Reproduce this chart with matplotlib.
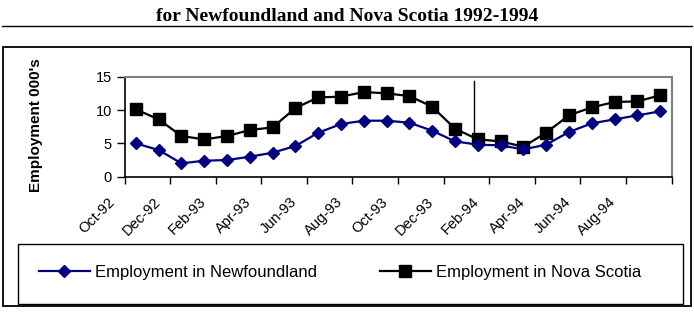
import matplotlib
matplotlib.use("Agg")
import matplotlib.pyplot as plt
from matplotlib.patches import Rectangle
from matplotlib.lines import Line2D
from matplotlib.transforms import ScaledTranslation

# data
months = ['Oct-92', 'Nov-92', 'Dec-92', 'Jan-93', 'Feb-93', 'Mar-93', 'Apr-93', 'May-93',
          'Jun-93', 'Jul-93', 'Aug-93', 'Sep-93', 'Oct-93', 'Nov-93', 'Dec-93', 'Jan-94',
          'Feb-94', 'Mar-94', 'Apr-94', 'May-94', 'Jun-94', 'Jul-94', 'Aug-94', 'Sep-94']
newfoundland = [5.0, 4.0, 2.0, 2.4, 2.5, 3.0, 3.6, 4.6, 6.6, 7.9,
                8.4, 8.4, 8.1, 6.9, 5.3, 4.8, 4.7, 4.1, 4.8, 6.7,
                8.0, 8.6, 9.2, 9.8]
nova_scotia = [10.1, 8.6, 6.1, 5.6, 6.1, 7.0, 7.4, 10.3, 11.9, 12.0,
               12.7, 12.5, 12.1, 10.5, 7.2, 5.6, 5.3, 4.5, 6.6, 9.2,
               10.4, 11.2, 11.3, 12.2]
y_ticks = [0, 5, 10, 15]
# vertical marker line drawn near Jan-94
marker_month = 'Jan-94'
marker_top = 14.35

plt.rcParams['font.family'] = ['Liberation Sans', 'DejaVu Sans']

fig = plt.figure(figsize=(6.94, 3.32), dpi=100)
W, H = 694.0, 332.0

# title (second line of the caption) and rule
fig.text(156 / W, 1 - 21 / H, 'for Newfoundland and Nova Scotia 1992-1994',
         family=['Liberation Serif', 'DejaVu Serif'], weight='bold', size=14,
         ha='left', va='baseline')
fig.add_artist(Line2D([2 / W, 692 / W], [1 - 26 / H, 1 - 26 / H], color='black', lw=1))

# outer chart box and legend box
fig.add_artist(Rectangle((2.5 / W, 1 - 305.5 / H), 688 / W, 258.5 / H, transform=fig.transFigure,
                         fill=False, edgecolor='black', lw=1.3))
fig.add_artist(Rectangle((18 / W, 1 - 304 / H), 665 / W, 60 / H, transform=fig.transFigure,
                         fill=False, edgecolor='black', lw=1.0))

ax = fig.add_axes([124.5 / W, 1 - 176.7 / H, 547 / W, 100 / H])
x = list(range(len(months)))
ax.plot(x, nova_scotia, color='black', lw=1.6, marker='s', markersize=8.7,
        label='Employment in Nova Scotia')
ax.plot(x, newfoundland, color='#000080', lw=1.6, marker='D', markersize=6,
        label='Employment in Newfoundland')

i_mark = months.index(marker_month)
ax.plot([i_mark - 0.17, i_mark - 0.17], [nova_scotia[i_mark] + 0.1, marker_top],
        color='black', lw=1.0)

ax.set_yticks(y_ticks)
ax.tick_params(axis='y', direction='out', length=6, width=1, pad=3, labelsize=10.5)

# ticks at category boundaries every two months
ax.set_xticks([i - 0.5 for i in x[::2]] + [len(months) - 0.5])
ax.set_xticklabels([])
ax.tick_params(axis='x', which='major', direction='out', length=5, width=1)
ax.set_xlim(-0.5, len(months) - 0.5)
ax.set_ylim(0, 15)

# rotated month labels, ending a little left of each tick
shift = ScaledTranslation(-17 / 100, -18 / 100, fig.dpi_scale_trans)
for i in x[::2]:
    ax.text(i - 0.5, 0, months[i], transform=ax.get_xaxis_transform() + shift,
            rotation=45, ha='right', va='top', rotation_mode='anchor', fontsize=10.5)

for side in ['top', 'right']:
    ax.spines[side].set_color('#808080')
    ax.spines[side].set_linewidth(1.5)
for side in ['left', 'bottom']:
    ax.spines[side].set_color('black')
    ax.spines[side].set_linewidth(1.2)

fig.text(36 / W, 1 - 125 / H, "Employment 000's", rotation=90, weight='bold',
         size=11, ha='center', va='center')

handles, labels = ax.get_legend_handles_labels()
fig.legend(handles[::-1], labels[::-1], ncol=2, loc='center',
           bbox_to_anchor=(340 / W, 1 - 272 / H), frameon=False, fontsize=12,
           handlelength=3.05, handletextpad=0.3, columnspacing=3.8)

fig.savefig('out.png', dpi=100)
